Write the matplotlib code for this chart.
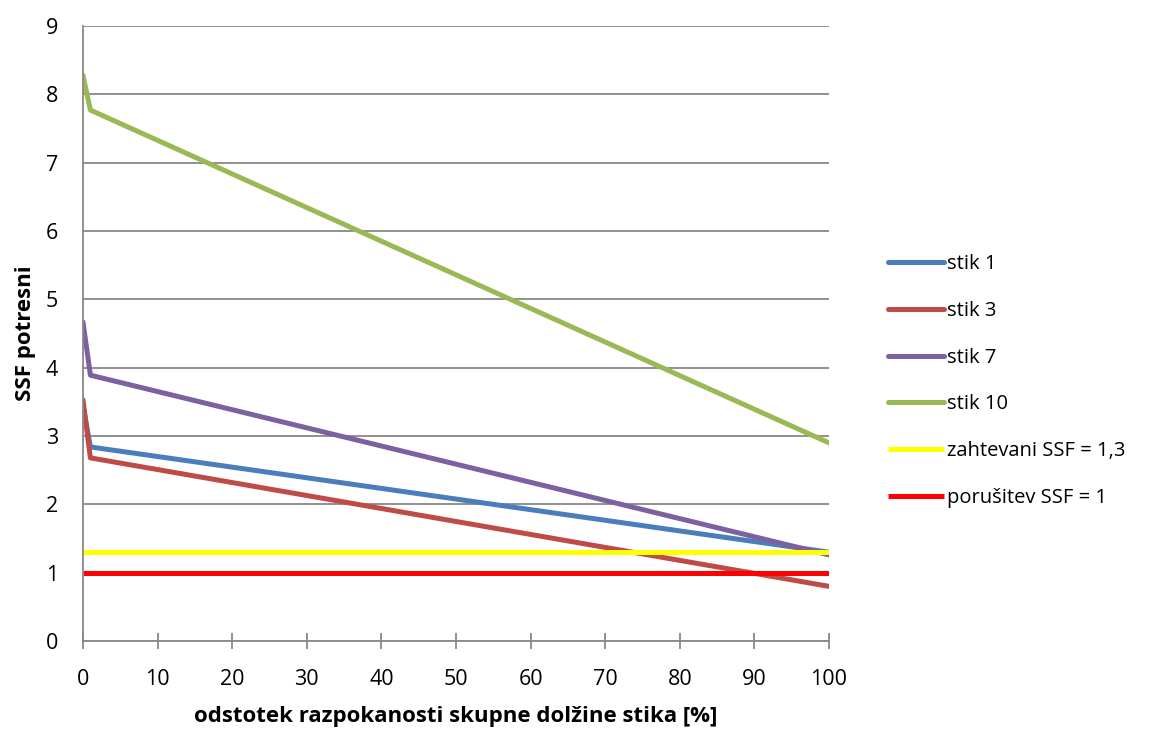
import matplotlib
matplotlib.use("Agg")
import matplotlib.pyplot as plt

plt.rcParams['font.family'] = ['Open Sans', 'DejaVu Sans']

x = [0, 1, 100]
stik1 = [3.45, 2.84, 1.30]
stik3 = [3.53, 2.68, 0.80]
stik7 = [4.67, 3.89, 1.26]
stik10 = [8.28, 7.77, 2.90]
x_const = [0, 100]
zahtevani = [1.3, 1.3]
porusitev = [1.0, 1.0]

labels = ["stik 1", "stik 3", "stik 7", "stik 10", "zahtevani SSF = 1,3", "porušitev SSF = 1"]
colors = ["#4A7EBB", "#BE4B48", "#7D60A0", "#98B954", "#FFFF00", "#FF0000"]

fig = plt.figure(figsize=(11.52, 7.29), dpi=100)
ax = fig.add_axes([0.072, 0.1207, 0.6476, 0.8436])

lw = 3.6
handles = []
for yv, c, lab in zip([stik1, stik3, stik7, stik10], colors[:4], labels[:4]):
    h, = ax.plot(x, yv, color=c, lw=lw, label=lab, solid_capstyle='round', solid_joinstyle='round')
    handles.append(h)
h, = ax.plot(x_const, zahtevani, color=colors[4], lw=lw, label=labels[4], solid_capstyle='butt')
handles.append(h)
h, = ax.plot(x_const, porusitev, color=colors[5], lw=lw, label=labels[5], solid_capstyle='butt')
handles.append(h)

ax.set_xlim(0, 100)
ax.set_ylim(0, 9)
ax.set_xticks(range(0, 101, 10))
ax.set_yticks(range(0, 10))
ax.yaxis.grid(True, color="#888888", lw=1.3)
ax.set_axisbelow(True)
for s in ["top", "right"]:
    ax.spines[s].set_visible(False)
for s in ["left", "bottom"]:
    ax.spines[s].set_color("#888888")
    ax.spines[s].set_linewidth(1.3)
ax.tick_params(axis='both', colors="#888888", width=1.3, labelsize=15.5, labelcolor="black")
ax.tick_params(axis='x', direction='inout', length=12, pad=14)
ax.tick_params(axis='y', length=0, pad=18)

ax.set_xlabel("odstotek razpokanosti skupne dolžine stika [%]", fontsize=16, fontweight='bold', labelpad=12)
ax.set_ylabel("SSF potresni", fontsize=16, fontweight='bold', labelpad=7)

fig.legend(handles=handles, labels=labels, loc='center left', bbox_to_anchor=(0.755, 0.4774),
           frameon=False, fontsize=14.5, handlelength=2.8, handletextpad=0.15, labelspacing=1.33,
           handleheight=0.7)

fig.savefig("out.png", dpi=100)
